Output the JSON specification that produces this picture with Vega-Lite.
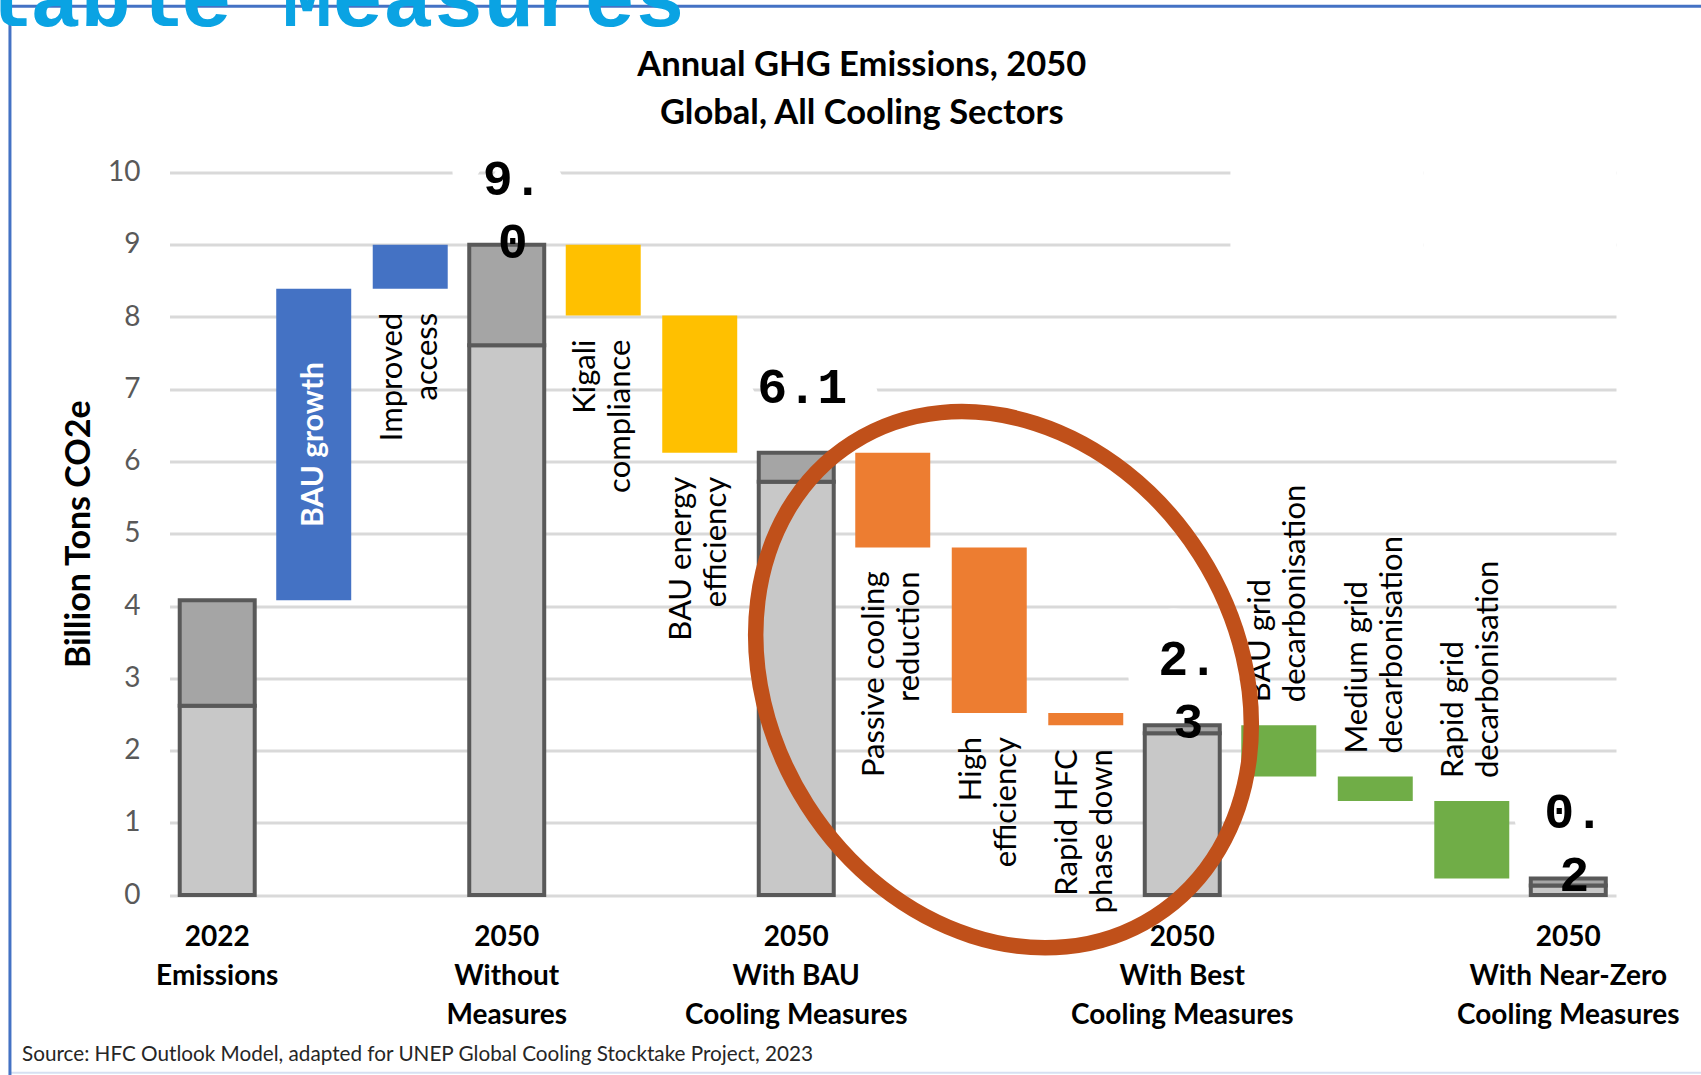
{
  "$schema": "https://vega.github.io/schema/vega-lite/v6.json",
  "width": 1446.5,
  "height": 722.5,
  "autosize": {"type": "none"},
  "padding": {"left": 169.5, "top": 172.5, "right": 85, "bottom": 180},
  "background": "white",
  "config": {
    "view": {"stroke": null},
    "axisY": {
      "labelFont": "Lato", "labelFontSize": 28, "labelColor": "#595959", "labelPadding": 29.5,
      "ticks": false, "domain": false, "grid": true, "gridColor": "#D9D9D9", "gridWidth": 3,
      "titleFont": "Lato", "titleFontSize": 34, "titleFontWeight": "bold", "titleColor": "black", "titlePadding": 11
    }
  },
  "title": {
    "text": ["Annual GHG Emissions, 2050", "Global, All Cooling Sectors"],
    "font": "Lato", "fontSize": 34.5, "fontWeight": "bold", "color": "black",
    "lineHeight": 48, "anchor": "middle", "dx": -31, "offset": -173
  },
  "datasets": {
    "steps": [
      {"step": 1, "cat": "2022|Emissions", "type": "total", "phase": "total", "low": 0, "mid": 2.62, "high": 4.08, "label": "", "valueLabel": ""},
      {"step": 2, "cat": "BAU growth", "type": "change", "phase": "growth", "low": 4.08, "high": 8.39, "label": "BAU growth", "valueLabel": ""},
      {"step": 3, "cat": "Improved access", "type": "change", "phase": "growth", "low": 8.39, "high": 9.0, "label": "Improved|access", "valueLabel": ""},
      {"step": 4, "cat": "2050|Without|Measures", "type": "total", "phase": "total", "low": 0, "mid": 7.61, "high": 9.0, "label": "", "valueLabel": "9.|0"},
      {"step": 5, "cat": "Kigali compliance", "type": "change", "phase": "bau", "low": 8.02, "high": 9.0, "label": "Kigali|compliance", "valueLabel": ""},
      {"step": 6, "cat": "BAU energy efficiency", "type": "change", "phase": "bau", "low": 6.12, "high": 8.02, "label": "BAU energy|efficiency", "valueLabel": ""},
      {"step": 7, "cat": "2050|With BAU|Cooling Measures", "type": "total", "phase": "total", "low": 0, "mid": 5.72, "high": 6.12, "label": "", "valueLabel": "6.1"},
      {"step": 8, "cat": "Passive cooling reduction", "type": "change", "phase": "best", "low": 4.81, "high": 6.12, "label": "Passive cooling|reduction", "valueLabel": ""},
      {"step": 9, "cat": "High efficiency", "type": "change", "phase": "best", "low": 2.52, "high": 4.81, "label": "High|efficiency", "valueLabel": ""},
      {"step": 10, "cat": "Rapid HFC phase down", "type": "change", "phase": "best", "low": 2.35, "high": 2.52, "label": "Rapid HFC|phase down", "valueLabel": ""},
      {"step": 11, "cat": "2050|With Best|Cooling Measures", "type": "total", "phase": "total", "low": 0, "mid": 2.24, "high": 2.35, "label": "", "valueLabel": "2.|3"},
      {"step": 12, "cat": "BAU grid decarbonisation", "type": "change", "phase": "grid", "low": 1.64, "high": 2.35, "label": "BAU grid|decarbonisation", "valueLabel": ""},
      {"step": 13, "cat": "Medium grid decarbonisation", "type": "change", "phase": "grid", "low": 1.30, "high": 1.64, "label": "Medium grid|decarbonisation", "valueLabel": ""},
      {"step": 14, "cat": "Rapid grid decarbonisation", "type": "change", "phase": "grid", "low": 0.23, "high": 1.30, "label": "Rapid grid|decarbonisation", "valueLabel": ""},
      {"step": 15, "cat": "2050|With Near-Zero|Cooling Measures", "type": "total", "phase": "total", "low": 0, "mid": 0.13, "high": 0.23, "label": "", "valueLabel": "0.|2"}
    ]
  },
  "resolve": {"scale": {"x": "independent"}, "axis": {"x": "independent", "y": "independent"}},
  "layer": [
    {
      "data": {"values": [{}]},
      "layer": [
        {
          "mark": {"type": "rule", "stroke": "#D6E0F2", "strokeWidth": 2},
          "encoding": {
            "x": {"datum": -0.1103, "type": "quantitative", "scale": {"domain": [0, 1]}, "axis": null},
            "x2": {"datum": 1.06},
            "y": {"datum": -2.46, "type": "quantitative", "scale": {"domain": [0, 10]}, "axis": null}
          }
        },
        {
          "mark": {"type": "rule", "stroke": "#4472C4", "strokeWidth": 3},
          "encoding": {
            "x": {"datum": -0.1103, "type": "quantitative", "scale": {"domain": [0, 1]}, "axis": null},
            "x2": {"datum": 1.06},
            "y": {"datum": 12.3, "type": "quantitative", "scale": {"domain": [0, 10]}, "axis": null}
          }
        },
        {
          "mark": {"type": "rule", "stroke": "#4472C4", "strokeWidth": 3},
          "encoding": {
            "x": {"datum": -0.1103, "type": "quantitative", "scale": {"domain": [0, 1]}, "axis": null},
            "y": {"datum": 12.3, "type": "quantitative", "scale": {"domain": [0, 10]}, "axis": null},
            "y2": {"datum": -2.5}
          }
        },
        {
          "mark": {"type": "text", "font": "Liberation Mono", "fontWeight": "bold", "fontSize": 84, "fill": "#0AA3E3", "align": "left", "baseline": "alphabetic"},
          "encoding": {
            "x": {"datum": -0.2707, "type": "quantitative", "scale": {"domain": [0, 1]}, "axis": null},
            "y": {"datum": 12.03, "type": "quantitative", "scale": {"domain": [0, 10]}, "axis": null},
            "text": {"value": "Available Measures"}
          }
        }
      ]
    },
    {
      "data": {"name": "steps"},
      "encoding": {
        "x": {
          "field": "cat", "type": "nominal",
          "scale": {
            "domain": ["2022|Emissions", "BAU growth", "Improved access", "2050|Without|Measures", "Kigali compliance", "BAU energy efficiency", "2050|With BAU|Cooling Measures", "Passive cooling reduction", "High efficiency", "Rapid HFC phase down", "2050|With Best|Cooling Measures", "BAU grid decarbonisation", "Medium grid decarbonisation", "Rapid grid decarbonisation", "2050|With Near-Zero|Cooling Measures"],
            "paddingInner": 0.223, "paddingOuter": 0.106
          },
          "axis": {
            "labelExpr": "indexof(datum.value, '|') >= 0 ? split(datum.value, '|') : ''",
            "labelFont": "Lato", "labelFontSize": 28, "labelFontWeight": "bold", "labelColor": "black",
            "labelLineHeight": 39, "labelPadding": 28, "labelAngle": 0, "labelOverlap": false, "labelLimit": 500,
            "ticks": false, "domain": false, "grid": false,
            "title": "Source: HFC Outlook Model, adapted for UNEP Global Cooling Stocktake Project, 2023",
            "titleFont": "Lato", "titleFontSize": 20.7, "titleFontWeight": "normal", "titleColor": "#262626",
            "titleAnchor": "start", "titleAlign": "left", "titleBaseline": "alphabetic",
            "titleX": -148, "titleY": 165
          }
        }
      },
      "layer": [
        {
          "transform": [
            {"filter": "datum.type == 'total' && datum.valueLabel != ''"},
            {"calculate": "split(datum.valueLabel, '|')[0]", "as": "firstLine"}
          ],
          "mark": {"type": "text", "font": "Liberation Mono", "fontWeight": "bold", "fontSize": 50, "baseline": "alphabetic", "align": "center", "dx": 6, "dy": -50, "fill": "white", "stroke": "white", "strokeWidth": 66, "strokeJoin": "round"},
          "encoding": {
            "y": {
              "field": "high", "type": "quantitative", "scale": {"domain": [0, 10]},
              "axis": {
                "title": "Billion Tons CO2e", "values": [0, 1, 2, 3, 4, 5, 6, 7, 8, 9, 10], "format": "d",
                "grid": true, "gridColor": "#D9D9D9", "gridWidth": 3, "ticks": false, "domain": false,
                "labelFont": "Lato", "labelFontSize": 28, "labelColor": "#595959", "labelPadding": 29.5,
                "titleFont": "Lato", "titleFontSize": 34, "titleFontWeight": "bold", "titleColor": "black", "titlePadding": 11
              }
            },
            "text": {"field": "firstLine"}
          }
        },
        {
          "transform": [{"filter": "datum.step >= 12"}],
          "mark": {"type": "bar", "color": "white", "width": {"band": 1.29}},
          "encoding": {
            "y": {"datum": 8.6, "type": "quantitative", "scale": {"domain": [0, 10]}},
            "y2": {"datum": 10.3}
          }
        },
        {
          "transform": [{"filter": "datum.type != 'total'"}],
          "mark": {"type": "bar"},
          "encoding": {
            "y": {"field": "low", "type": "quantitative", "scale": {"domain": [0, 10]}},
            "y2": {"field": "high"},
            "color": {
              "field": "phase", "type": "nominal",
              "scale": {"domain": ["growth", "bau", "best", "grid"], "range": ["#4472C4", "#FFC000", "#ED7D31", "#70AD47"]},
              "legend": null
            }
          }
        },
        {
          "transform": [{"filter": "datum.type == 'total'"}],
          "mark": {"type": "bar", "fill": "#C8C8C8", "stroke": "#595959", "strokeWidth": 4},
          "encoding": {
            "y": {"field": "low", "type": "quantitative", "scale": {"domain": [0, 10]}},
            "y2": {"field": "mid"}
          }
        },
        {
          "transform": [{"filter": "datum.type == 'total'"}],
          "mark": {"type": "bar", "fill": "#A5A5A5", "stroke": "#595959", "strokeWidth": 4},
          "encoding": {
            "y": {"field": "mid", "type": "quantitative", "scale": {"domain": [0, 10]}},
            "y2": {"field": "high"}
          }
        },
        {
          "transform": [{"filter": "datum.type != 'total' && datum.phase != 'grid' && datum.cat != 'BAU growth'"}],
          "mark": {"type": "text", "font": "Lato", "fontSize": 31, "angle": 270, "align": "right", "baseline": "middle", "dx": -24, "dy": -17.5, "lineBreak": "|", "lineHeight": 35, "fill": "black"},
          "encoding": {
            "y": {"field": "low", "type": "quantitative", "scale": {"domain": [0, 10]}},
            "text": {"field": "label"}
          }
        },
        {
          "transform": [{"filter": "datum.phase == 'grid'"}],
          "mark": {"type": "text", "font": "Lato", "fontSize": 31, "angle": 270, "align": "left", "baseline": "middle", "dx": 23, "dy": -17.5, "lineBreak": "|", "lineHeight": 35, "fill": "black"},
          "encoding": {
            "y": {"field": "high", "type": "quantitative", "scale": {"domain": [0, 10]}},
            "text": {"field": "label"}
          }
        },
        {
          "transform": [
            {"filter": "datum.cat == 'BAU growth'"},
            {"calculate": "(datum.low + datum.high) / 2", "as": "center"}
          ],
          "mark": {"type": "text", "font": "Lato", "fontSize": 30, "fontWeight": "bold", "angle": 270, "align": "center", "baseline": "middle", "fill": "white"},
          "encoding": {
            "y": {"field": "center", "type": "quantitative", "scale": {"domain": [0, 10]}},
            "text": {"field": "label"}
          }
        },
        {
          "transform": [{"filter": "datum.type == 'total' && datum.valueLabel != ''"}],
          "mark": {"type": "text", "font": "Liberation Mono", "fontWeight": "bold", "fontSize": 50, "baseline": "alphabetic", "align": "center", "dx": 6, "dy": -50, "lineBreak": "|", "lineHeight": 63, "fill": "black"},
          "encoding": {
            "y": {"field": "high", "type": "quantitative", "scale": {"domain": [0, 10]}},
            "text": {"field": "valueLabel"}
          }
        },
        {
          "data": {"values": [{}]},
          "mark": {
            "type": "point",
            "shape": "M -1 0 A 1 0.829 0 1 1 1 0 A 1 0.829 0 1 1 -1 0 Z",
            "size": 315844, "angle": 57.5, "filled": false,
            "stroke": "#C0501A", "strokeWidth": 15.5, "opacity": 1
          },
          "encoding": {
            "x": {"datum": "High efficiency", "type": "nominal", "bandPosition": 0.69},
            "y": {"datum": 2.98, "type": "quantitative", "scale": {"domain": [0, 10]}}
          }
        }
      ]
    }
  ]
}
